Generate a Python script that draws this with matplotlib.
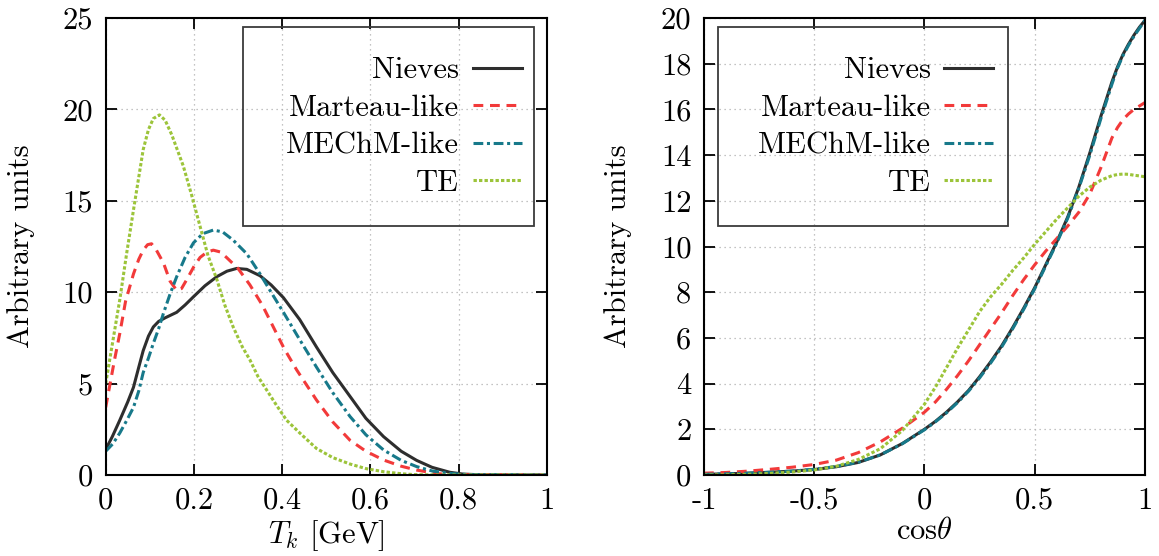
import matplotlib
matplotlib.use("Agg")
import matplotlib.pyplot as plt
from matplotlib.patches import Rectangle

plt.rcParams['font.family'] = ['cmr10', 'DejaVu Serif']
plt.rcParams['mathtext.fontset'] = 'cm'
plt.rcParams['axes.unicode_minus'] = False
plt.rcParams['font.size'] = 22

# ---- left panel: kinetic energy distribution ----
tk_nieves_x = [0, 0.015, 0.032, 0.05, 0.063, 0.075, 0.085, 0.097, 0.108, 0.12, 0.135, 0.161, 0.18,
               0.199, 0.225, 0.252, 0.275, 0.297, 0.32, 0.35, 0.375, 0.403, 0.44, 0.478, 0.515,
               0.554, 0.59, 0.63, 0.67, 0.705, 0.74, 0.78, 0.81, 0.85, 0.9, 1.0]
tk_nieves_y = [1.4, 2.1, 3.0, 4.0, 4.8, 5.9, 6.8, 7.6, 8.1, 8.4, 8.6, 8.9, 9.3,
               9.75, 10.35, 10.85, 11.15, 11.3, 11.25, 10.9, 10.4, 9.7, 8.5, 7.0, 5.6,
               4.3, 3.1, 2.1, 1.3, 0.8, 0.42, 0.15, 0.05, 0.01, 0, 0]

tk_marteau_x = [0, 0.01, 0.02, 0.032, 0.045, 0.063, 0.075, 0.085, 0.095, 0.104, 0.115, 0.131, 0.146,
                0.161, 0.172, 0.184, 0.2, 0.214, 0.23, 0.244, 0.26, 0.274, 0.3, 0.327, 0.355, 0.38,
                0.405, 0.433, 0.478, 0.515, 0.554, 0.59, 0.63, 0.67, 0.705, 0.75, 0.78, 1.0]
tk_marteau_y = [3.7, 5.0, 6.3, 7.75, 9.5, 11.0, 11.8, 12.3, 12.6, 12.65, 12.3, 11.6, 10.6,
                10.1, 10.2, 10.7, 11.4, 11.9, 12.2, 12.3, 12.2, 11.9, 11.3, 10.4, 9.3, 8.1,
                6.9, 5.75, 4.1, 2.9, 1.9, 1.3, 0.82, 0.48, 0.27, 0.08, 0.02, 0]

tk_mechm_x = [0, 0.016, 0.032, 0.048, 0.063, 0.075, 0.085, 0.097, 0.108, 0.12, 0.131, 0.146, 0.161,
              0.18, 0.199, 0.22, 0.244, 0.265, 0.289, 0.32, 0.35, 0.375, 0.403, 0.44, 0.478, 0.515,
              0.554, 0.59, 0.63, 0.67, 0.705, 0.74, 0.78, 0.82, 1.0]
tk_mechm_y = [1.3, 1.7, 2.3, 3.0, 3.7, 4.6, 5.6, 6.4, 7.2, 8.0, 8.85, 9.9, 10.85,
              11.9, 12.7, 13.2, 13.4, 13.3, 12.85, 12.1, 11.0, 10.0, 8.9, 7.4, 5.9, 4.5,
              3.2, 2.2, 1.37, 0.8, 0.46, 0.22, 0.09, 0.02, 0]

tk_te_x = [0, 0.016, 0.032, 0.048, 0.063, 0.075, 0.085, 0.097, 0.108, 0.122, 0.135, 0.15, 0.176,
           0.195, 0.214, 0.232, 0.252, 0.27, 0.289, 0.31, 0.327, 0.345, 0.365, 0.385, 0.41, 0.44,
           0.478, 0.515, 0.554, 0.59, 0.63, 0.67, 0.7, 0.75, 1.0]
tk_te_y = [5.0, 7.3, 9.6, 12.2, 14.5, 16.3, 17.8, 18.9, 19.5, 19.7, 19.4, 18.6, 16.9,
           15.3, 13.6, 12.0, 10.7, 9.3, 8.1, 7.0, 6.3, 5.4, 4.65, 3.9, 3.0, 2.3,
           1.45, 0.95, 0.6, 0.35, 0.18, 0.07, 0.02, 0, 0]

# ---- right panel: angular distribution ----
cos_x = [-1, -0.9, -0.8, -0.7, -0.6, -0.5, -0.4, -0.3, -0.2, -0.1, 0, 0.05, 0.1, 0.15, 0.2,
         0.25, 0.3, 0.35, 0.4, 0.45, 0.5, 0.55, 0.6, 0.65, 0.7, 0.75, 0.8, 0.85, 0.875, 0.9,
         0.925, 0.95, 0.975, 1.0]
cos_nieves_y = [0.03, 0.05, 0.08, 0.12, 0.17, 0.24, 0.36, 0.55, 0.88, 1.38, 2.0, 2.35, 2.75, 3.2,
                3.7, 4.3, 4.95, 5.65, 6.45, 7.3, 8.2, 9.2, 10.2, 11.3, 12.6, 14.1, 15.7, 17.2,
                17.85, 18.4, 18.85, 19.25, 19.6, 19.9]
cos_mechm_y = [0.03, 0.05, 0.08, 0.12, 0.17, 0.25, 0.37, 0.56, 0.88, 1.37, 1.98, 2.33, 2.72, 3.17,
               3.67, 4.25, 4.9, 5.6, 6.4, 7.25, 8.15, 9.15, 10.15, 11.25, 12.55, 14.0, 15.6, 17.1,
               17.8, 18.35, 18.8, 19.2, 19.55, 19.9]
cos_marteau_y = [0.08, 0.11, 0.17, 0.25, 0.34, 0.46, 0.65, 0.98, 1.45, 2.05, 2.75, 3.2, 3.75, 4.35,
                 5.0, 5.7, 6.4, 7.1, 7.85, 8.55, 9.2, 9.8, 10.35, 10.9, 11.5, 12.3, 13.45,
                 14.75, 15.2, 15.55, 15.8, 16.0, 16.15, 16.3]
cos_te_y = [0.0, 0.01, 0.03, 0.07, 0.13, 0.22, 0.38, 0.68, 1.15, 1.95, 3.1, 3.85, 4.7, 5.55,
            6.35, 7.15, 7.8, 8.35, 8.95, 9.5, 10.1, 10.65, 11.2, 11.7, 12.2, 12.6, 12.9, 13.1,
            13.15, 13.17, 13.16, 13.12, 13.09, 13.05]

labels = ["Nieves", "Marteau-like", "MEChM-like", "TE"]

tk_ticks = [0, 0.2, 0.4, 0.6, 0.8, 1]
tk_ticklabels = ["0", "0.2", "0.4", "0.6", "0.8", "1"]
tk_yticks = [0, 5, 10, 15, 20, 25]
cos_ticks = [-1, -0.5, 0, 0.5, 1]
cos_ticklabels = ["-1", "-0.5", "0", "0.5", "1"]
cos_yticks = [0, 2, 4, 6, 8, 10, 12, 14, 16, 18, 20]

# styles (gnuplot look)
c_black = '#2e2e2e'
c_red = '#f23a3a'
c_teal = '#17798a'
c_green = '#9cc43a'
lw = 2.2
st_nieves = dict(color=c_black, lw=lw, ls='-')
st_marteau = dict(color=c_red, lw=lw, ls=(0, (3.2, 2.2)))
st_mechm = dict(color=c_teal, lw=lw, ls=(0, (3.2, 1.2, 1.0, 1.2)))
st_te = dict(color=c_green, lw=lw, ls=(0, (1.1, 0.7)))

fig = plt.figure(figsize=(11.59, 5.56), dpi=100)
ax1 = fig.add_axes([0.0912, 0.1457, 0.3805, 0.8219])
ax2 = fig.add_axes([0.6074, 0.1457, 0.3805, 0.8219])


def style_axes(ax):
    ax.grid(True, color='#b0b0b0', ls=(0, (1, 3)), lw=0.9)
    ax.tick_params(direction='in', length=8, width=1.3, top=True, right=True, pad=9,
                   labelsize=22)
    for s in ax.spines.values():
        s.set_linewidth(1.5)
        s.set_color('black')


def add_legend(ax, box, anchor):
    leg = ax.legend(labels, loc='center right', bbox_to_anchor=anchor, bbox_transform=ax.transAxes,
                    frameon=False, markerfirst=False, fontsize=22, handlelength=1.6,
                    handletextpad=0.45, labelspacing=0.33, borderpad=0, borderaxespad=0)
    x0, y0, x1, y1 = box
    ax.add_patch(Rectangle((x0, y0), x1 - x0, y1 - y0, transform=ax.transAxes, fill=False,
                           ec='#3a3a3a', lw=1.3, zorder=5))
    return leg


# left panel
ax1.plot(tk_nieves_x, tk_nieves_y, **st_nieves)
ax1.plot(tk_marteau_x, tk_marteau_y, **st_marteau)
ax1.plot(tk_mechm_x, tk_mechm_y, **st_mechm)
ax1.plot(tk_te_x, tk_te_y, **st_te)
ax1.set_xlim(0, 1)
ax1.set_ylim(0, 25)
ax1.set_xticks(tk_ticks)
ax1.set_xticklabels(tk_ticklabels)
ax1.set_yticks(tk_yticks)
ax1.set_xlabel(r'$T_k$ [GeV]', labelpad=2)
ax1.set_ylabel('Arbitrary units', labelpad=20)
style_axes(ax1)
add_legend(ax1, (0.311, 0.545, 0.971, 0.980), (0.943, 0.762))

# right panel
ax2.plot(cos_x, cos_nieves_y, **st_nieves)
ax2.plot(cos_x, cos_marteau_y, **st_marteau)
ax2.plot(cos_x, cos_mechm_y, **st_mechm)
ax2.plot(cos_x, cos_te_y, **st_te)
ax2.set_xlim(-1, 1)
ax2.set_ylim(0, 20)
ax2.set_xticks(cos_ticks)
ax2.set_xticklabels(cos_ticklabels)
ax2.set_yticks(cos_yticks)
ax2.set_xlabel(r'cos$\theta$', labelpad=2)
ax2.set_ylabel('Arbitrary units', labelpad=21)
style_axes(ax2)
add_legend(ax2, (0.0324, 0.545, 0.690, 0.980), (0.656, 0.762))

fig.savefig('out.png', dpi=100)
